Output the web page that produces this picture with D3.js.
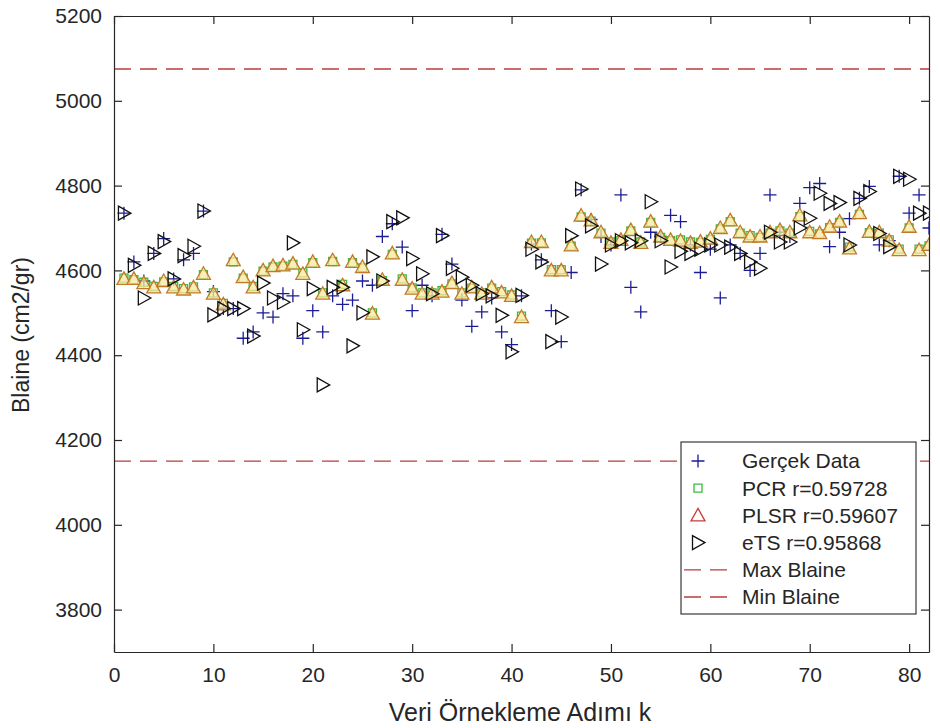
<!DOCTYPE html>
<html>
<head>
<meta charset="utf-8">
<script src="https://cdnjs.cloudflare.com/ajax/libs/d3/7.8.5/d3.min.js"></script>
<style>
body { margin: 0; background: #fff; }
text { font-family: "Liberation Sans", Arial, sans-serif; fill: #262626; }
</style>
</head>
<body>
<div id="graphic"></div>
<script>
// sample index k
var steps = [1,2,3,4,5,6,7,8,9,10,11,12,13,14,15,16,17,18,19,20,21,22,23,24,25,26,27,28,29,30,
    31,32,33,34,35,36,37,38,39,40,41,42,43,44,45,46,47,48,49,50,51,52,53,54,55,56,57,58,59,60,
    61,62,63,64,65,66,67,68,69,70,71,72,73,74,75,76,77,78,79,80,81,82];

var gercek = [4735,4620,4575,4640,4675,4580,4625,4640,4740,4550,4510,4510,4440,4455,4500,4490,4545,4540,4440,4505,
    4455,4540,4520,4530,4575,4565,4680,4710,4655,4505,4565,4540,4685,4615,4530,4468,4502,4535,4455,4425,
    4540,4662,4625,4505,4432,4595,4790,4720,4680,4660,4778,4560,4502,4690,4680,4730,4715,4660,4595,4650,
    4535,4660,4640,4600,4640,4778,4690,4680,4758,4795,4805,4656,4690,4722,4770,4798,4660,4670,4822,4735,
    4778,4700];

var pcr = [4582,4578,4572,4562,4573,4562,4557,4561,4590,4547,4522,4620,4582,4562,4598,4608,4610,4614,4594,4618,
    4547,4621,4567,4618,4606,4500,4576,4638,4580,4559,4547,4547,4552,4568,4547,4558,4547,4558,4550,4542,
    4492,4664,4665,4602,4602,4657,4726,4716,4688,4667,4670,4693,4667,4713,4678,4670,4672,4667,4666,4673,
    4698,4715,4688,4682,4678,4688,4693,4688,4727,4692,4686,4701,4713,4655,4732,4689,4688,4672,4650,4700,
    4650,4658];

var plsr = [4580,4580,4570,4560,4575,4560,4555,4560,4592,4545,4520,4624,4584,4560,4600,4610,4612,4616,4592,4620,
    4545,4624,4565,4620,4608,4498,4578,4640,4578,4557,4545,4545,4550,4570,4545,4560,4545,4560,4548,4540,
    4490,4667,4667,4600,4600,4659,4729,4718,4690,4665,4672,4695,4665,4715,4680,4672,4670,4665,4668,4675,
    4700,4718,4690,4680,4680,4690,4695,4690,4730,4690,4688,4703,4715,4652,4735,4691,4690,4670,4648,4703,
    4648,4660];

var ets = [4735,4612,4535,4640,4668,4580,4635,4657,4740,4495,4510,4510,4510,4445,4570,4535,4525,4665,4460,4557,
    4330,4560,4560,4422,4500,4632,4575,4715,4724,4628,4592,4545,4682,4605,4584,4565,4545,4540,4494,4408,
    4541,4650,4620,4432,4490,4682,4792,4705,4615,4660,4670,4665,4670,4762,4670,4608,4645,4640,4650,4660,
    4660,4655,4640,4620,4605,4690,4667,4667,4700,4723,4782,4758,4760,4660,4770,4786,4687,4656,4822,4815,
    4735,4735];

var maxBlaine = 5075, minBlaine = 4150;

var xTicks = [0,10,20,30,40,50,60,70,80];
var yTicks = [3800,4000,4200,4400,4600,4800,5000,5200];
var legendLabels = ["Gerçek Data","PCR r=0.59728","PLSR r=0.59607","eTS r=0.95868","Max Blaine","Min Blaine"];

var W = 940, H = 728;
var margin = { top: 16, right: 11, bottom: 76, left: 114 },
    width = W - margin.left - margin.right,
    height = H - margin.top - margin.bottom;

var x = d3.scaleLinear().domain([0, 82]).range([0, width]);
var y = d3.scaleLinear().domain([3700, 5200]).range([height, 0]);

var svg = d3.select("#graphic").append("svg")
    .attr("width", W)
    .attr("height", H)
    .append("g")
    .attr("transform", "translate(" + margin.left + "," + margin.top + ")");

svg.append("clipPath").attr("id", "clip")
    .append("rect").attr("width", width).attr("height", height);

// marker shapes
var plusPath = "M-6.5,0H6.5M0,-6.5V6.5";
var squarePath = "M-4,-4H4V4H-4Z";
var upPath = "M0,-7L7,5.5H-7Z";
var rightPath = "M-5.5,-7L7,0L-5.5,7Z";

var plot = svg.append("g").attr("clip-path", "url(#clip)");

function drawSeries(values, path, stroke, fill) {
    plot.append("g").selectAll(null)
        .data(values)
        .enter()
        .append("path")
        .attr("d", path)
        .attr("transform", function(d, i) { return "translate(" + x(steps[i]) + "," + y(d) + ")"; })
        .attr("fill", fill)
        .attr("stroke", stroke)
        .attr("stroke-width", 1.3);
}

drawSeries(gercek, plusPath, "#1c1c96", "none");
drawSeries(pcr, squarePath, "#3dbb3d", "none");
drawSeries(plsr, upPath, "#c27a28", "rgba(248,232,160,0.75)");
drawSeries(ets, rightPath, "#111", "none");

// limit lines
[maxBlaine, minBlaine].forEach(function(v) {
    plot.append("line")
        .attr("x1", 0).attr("x2", width)
        .attr("y1", y(v)).attr("y2", y(v))
        .attr("stroke", "#b83c3c")
        .attr("stroke-width", 1.3)
        .attr("stroke-dasharray", "17,9");
});

// axes, ticks inward on all four sides
function styleAxis(g) {
    g.select(".domain").attr("stroke", "#262626").attr("stroke-width", 1.2);
    g.selectAll(".tick line").attr("stroke", "#262626").attr("stroke-width", 1.2);
    g.selectAll("text").attr("font-size", 21).attr("fill", "#3a3a3a")
        .attr("font-family", "Liberation Sans, Arial, sans-serif");
}

svg.append("g")
    .attr("transform", "translate(0," + height + ")")
    .call(d3.axisBottom(x).tickValues(xTicks).tickSizeInner(-8).tickSizeOuter(0).tickPadding(15))
    .call(styleAxis);
svg.append("g")
    .call(d3.axisTop(x).tickValues(xTicks).tickSizeInner(-8).tickSizeOuter(0).tickFormat(""))
    .call(styleAxis);
svg.append("g")
    .call(d3.axisLeft(y).tickValues(yTicks).tickSizeInner(-8).tickSizeOuter(0).tickPadding(12).tickFormat(d3.format("d")))
    .call(styleAxis);
svg.append("g")
    .attr("transform", "translate(" + width + ",0)")
    .call(d3.axisRight(y).tickValues(yTicks).tickSizeInner(-8).tickSizeOuter(0).tickFormat(""))
    .call(styleAxis);

// axis titles
svg.append("text")
    .attr("x", 520 - margin.left)
    .attr("y", height + 69)
    .attr("text-anchor", "middle")
    .attr("font-size", 25)
    .attr("fill", "#3a3a3a")
    .text("Veri Örnekleme Adımı k");

svg.append("text")
    .attr("transform", "translate(" + (-85) + "," + (335 - margin.top) + ") rotate(-90)")
    .attr("text-anchor", "middle")
    .attr("font-size", 23)
    .attr("fill", "#3a3a3a")
    .text("Blaine (cm2/gr)");

// legend
var lx = 681 - margin.left, ly = 442 - margin.top, lw = 235, lh = 172, rowH = 27.2;
var legend = svg.append("g").attr("transform", "translate(" + lx + "," + ly + ")");
legend.append("rect")
    .attr("width", lw).attr("height", lh)
    .attr("fill", "#fff").attr("stroke", "#262626").attr("stroke-width", 1.1);

var legendMarks = [
    { path: plusPath, stroke: "#1c1c96" },
    { path: squarePath, stroke: "#3dbb3d" },
    { path: upPath, stroke: "#cc3a3a" },
    { path: rightPath, stroke: "#111" },
    { line: true },
    { line: true }
];

legendLabels.forEach(function(lab, i) {
    var cy = 19 + i * rowH;
    var m = legendMarks[i];
    if (m.line) {
        legend.append("line")
            .attr("x1", 3).attr("x2", 50)
            .attr("y1", cy).attr("y2", cy)
            .attr("stroke", "#b83c3c").attr("stroke-width", 1.3)
            .attr("stroke-dasharray", "17,9");
    } else {
        legend.append("path")
            .attr("d", m.path)
            .attr("transform", "translate(17," + cy + ")")
            .attr("fill", "none").attr("stroke", m.stroke).attr("stroke-width", 1.3);
    }
    legend.append("text")
        .attr("x", 61).attr("y", cy)
        .attr("dy", "0.35em")
        .attr("font-size", 21)
        .attr("fill", "#262626")
        .text(lab);
});
</script>
</body>
</html>
